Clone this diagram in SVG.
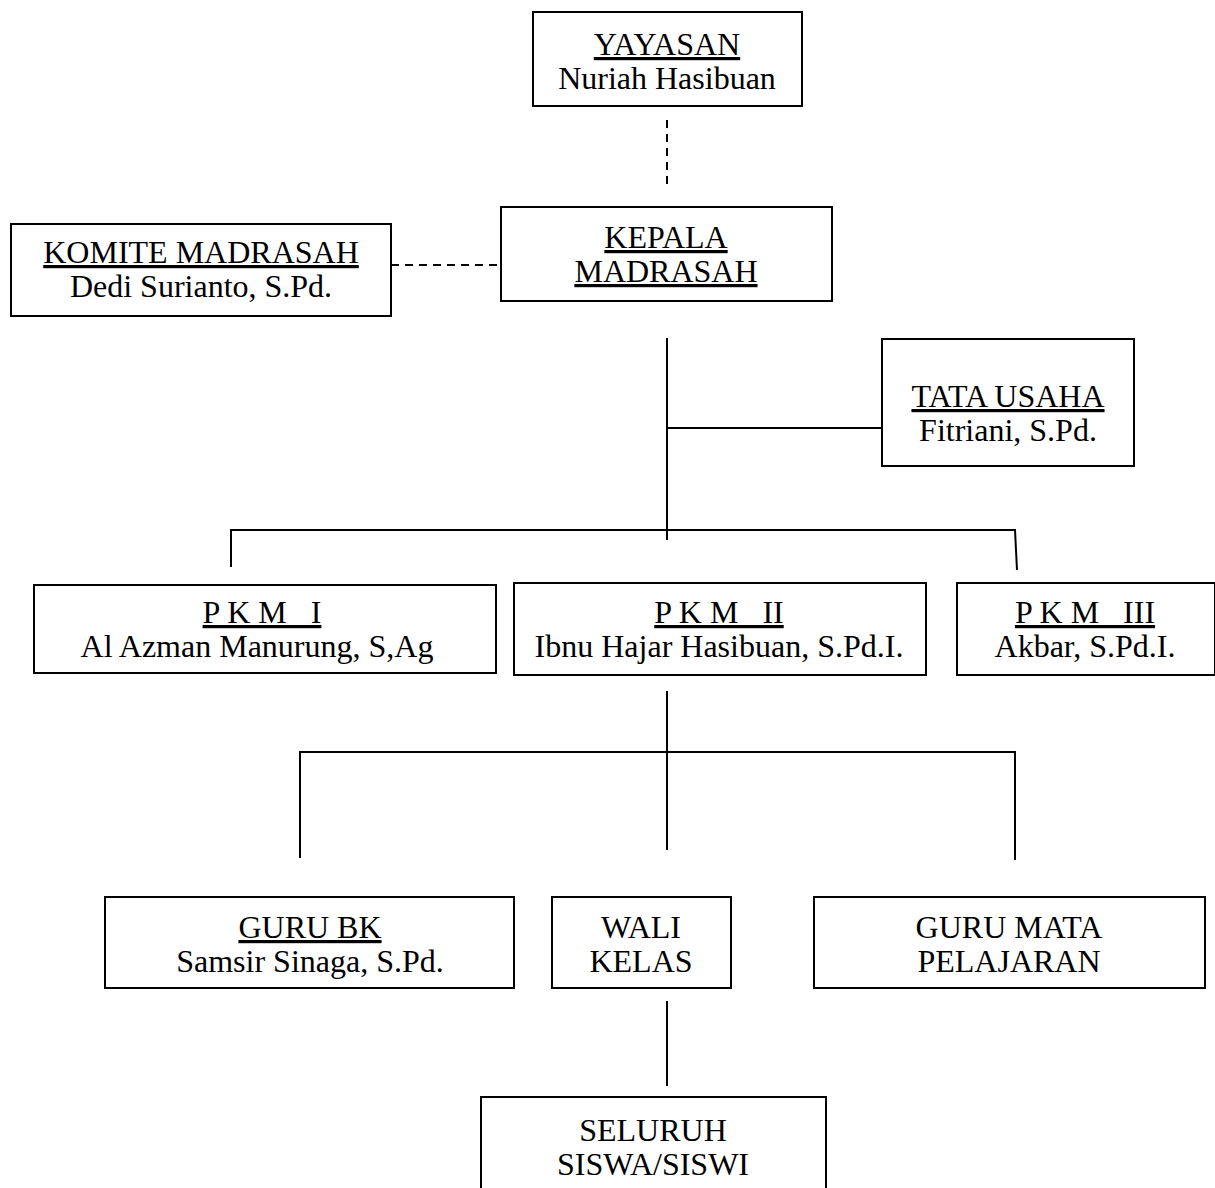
<svg xmlns="http://www.w3.org/2000/svg" width="1215" height="1188" viewBox="0 0 1215 1188">
<style>
.box{fill:#fff;stroke:#000;stroke-width:2}
.t{font-family:"Liberation Serif","Times New Roman",serif;font-size:32px;fill:#000;text-anchor:middle;white-space:pre}
.u{text-decoration:underline}
.ln{stroke:#000;stroke-width:2;fill:none}
.dash{stroke:#000;stroke-width:2;fill:none;stroke-dasharray:8,6}
</style>
<rect width="1215" height="1188" fill="#fff"/>
<g id="connectors">
<line class="dash" x1="667" y1="120" x2="667" y2="184"/>
<line class="dash" x1="391" y1="265" x2="501" y2="265"/>
<line class="ln" x1="667" y1="338" x2="667" y2="540"/>
<line class="ln" x1="667" y1="428" x2="882" y2="428"/>
<polyline class="ln" points="231,567 231,530 1015,530 1017,570"/>
<line class="ln" x1="667" y1="691" x2="667" y2="850"/>
<polyline class="ln" points="300,858 300,752 1015,752 1015,860"/>
<line class="ln" x1="667" y1="1001" x2="667" y2="1086"/>
</g>
<g id="yayasan">
<rect class="box" x="533" y="12" width="269" height="94"/>
<text class="t u" x="667" y="55">YAYASAN</text>
<text class="t" x="667" y="89">Nuriah Hasibuan</text>
</g>
<g id="komite">
<rect class="box" x="11" y="224" width="380" height="92"/>
<text class="t u" x="201" y="263">KOMITE MADRASAH</text>
<text class="t" x="201" y="297">Dedi Surianto, S.Pd.</text>
</g>
<g id="kepala">
<rect class="box" x="501" y="207" width="331" height="94"/>
<text class="t u" x="666" y="248">KEPALA</text>
<text class="t u" x="666" y="282">MADRASAH</text>
</g>
<g id="tatausaha">
<rect class="box" x="882" y="339" width="252" height="127"/>
<text class="t u" x="1008" y="407">TATA USAHA</text>
<text class="t" x="1008" y="441">Fitriani, S.Pd.</text>
</g>
<g id="pkm1">
<rect class="box" x="34" y="585" width="462" height="88"/>
<text class="t u" x="262" y="623">P K M   I</text>
<text class="t" x="257" y="657">Al Azman Manurung, S,Ag</text>
</g>
<g id="pkm2">
<rect class="box" x="514" y="583" width="412" height="92"/>
<text class="t u" x="719" y="623">P K M   II</text>
<text class="t" x="719" y="657">Ibnu Hajar Hasibuan, S.Pd.I.</text>
</g>
<g id="pkm3">
<rect class="box" x="957" y="583" width="258" height="92"/>
<text class="t u" x="1085" y="623">P K M   III</text>
<text class="t" x="1085" y="657">Akbar, S.Pd.I.</text>
</g>
<g id="gurubk">
<rect class="box" x="105" y="897" width="409" height="91"/>
<text class="t u" x="310" y="938">GURU BK</text>
<text class="t" x="310" y="972">Samsir Sinaga, S.Pd.</text>
</g>
<g id="walikelas">
<rect class="box" x="552" y="897" width="179" height="91"/>
<text class="t" x="641" y="938">WALI</text>
<text class="t" x="641" y="972">KELAS</text>
</g>
<g id="gurumapel">
<rect class="box" x="814" y="897" width="391" height="91"/>
<text class="t" x="1009" y="938">GURU MATA</text>
<text class="t" x="1009" y="972">PELAJARAN</text>
</g>
<g id="siswa">
<rect class="box" x="481" y="1097" width="345" height="100"/>
<text class="t" x="653" y="1141">SELURUH</text>
<text class="t" x="653" y="1175">SISWA/SISWI</text>
</g>
</svg>
